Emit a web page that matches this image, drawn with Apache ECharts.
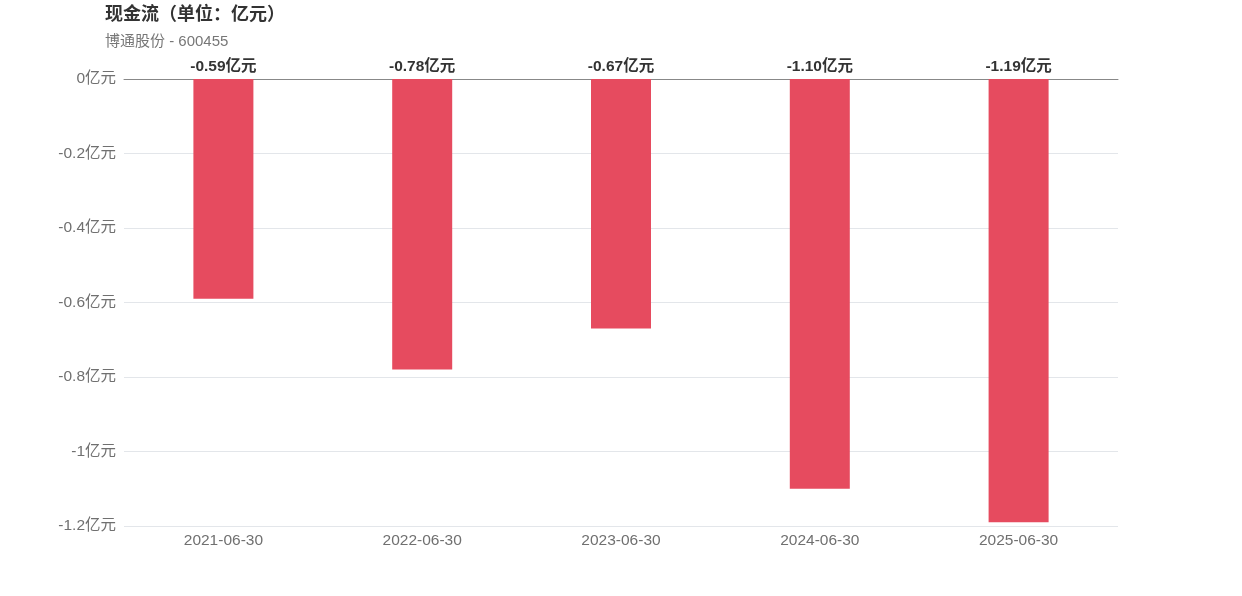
<!DOCTYPE html>
<html><head><meta charset="utf-8">
<script src="https://cdn.jsdelivr.net/npm/echarts@6/dist/echarts.min.js"></script>
<style>html,body{margin:0;padding:0;background:#fff}#c{width:1242px;height:596px}</style>
</head><body><div id="c"></div>
<script>
const categories = ['2021-06-30','2022-06-30','2023-06-30','2024-06-30','2025-06-30'];
const cashFlow = [-0.59, -0.78, -0.67, -1.10, -1.19];
const yTicks = [0, -0.2, -0.4, -0.6, -0.8, -1, -1.2];

const FF = 'Liberation Sans, Noto Sans CJK SC';
const chart = echarts.init(document.getElementById('c'));
chart.setOption({
  animation: false,
  title: {
    text: '现金流（单位：亿元）',
    subtext: '博通股份 - 600455',
    left: 100, top: 1,
    textStyle: {fontFamily: FF, fontSize: 18, fontWeight: 'bold', color: '#333'},
    subtextStyle: {fontFamily: FF, fontSize: 15, color: '#777'},
    itemGap: 10
  },
  grid: {left: 124, right: 124, top: 79, bottom: 70, containLabel: false},
  xAxis: {
    type: 'category', data: categories, position: 'top',
    axisLine: {show: true, onZero: true, lineStyle: {color: '#888', width: 1}},
    axisTick: {show: false},
    axisLabel: {show: false}
  },
  yAxis: {
    type: 'value', min: yTicks[yTicks.length - 1], max: yTicks[0], interval: 0.2,
    axisLine: {show: false}, axisTick: {show: false},
    splitLine: {lineStyle: {color: '#e3e6ea'}},
    axisLabel: {
      fontFamily: FF, fontSize: 15.5, color: '#707070', margin: 8,
      formatter: v => (Math.round(v * 10) / 10) + '亿元'
    }
  },
  series: [{
    type: 'bar', data: cashFlow, barWidth: 60,
    itemStyle: {color: '#e64b5f'},
    label: {
      show: true, position: 'top', distance: 5,
      fontFamily: FF, fontSize: 15.5, fontWeight: 'bold', color: '#333',
      formatter: p => p.value.toFixed(2) + '亿元'
    }
  }],
  graphic: categories.map((c, i) => ({
    type: 'text', id: 'xl' + i,
    style: {text: c, fontFamily: FF, fontSize: 15.5, fill: '#707070', align: 'center', verticalAlign: 'top'},
    x: 0, y: 0
  }))
});
const pts = categories.map((c, i) => chart.convertToPixel({gridIndex: 0}, [i, yTicks[yTicks.length - 1]]));
chart.setOption({graphic: pts.map((p, i) => ({id: 'xl' + i, x: p[0], y: p[1] + 7}))});
</script></body></html>
